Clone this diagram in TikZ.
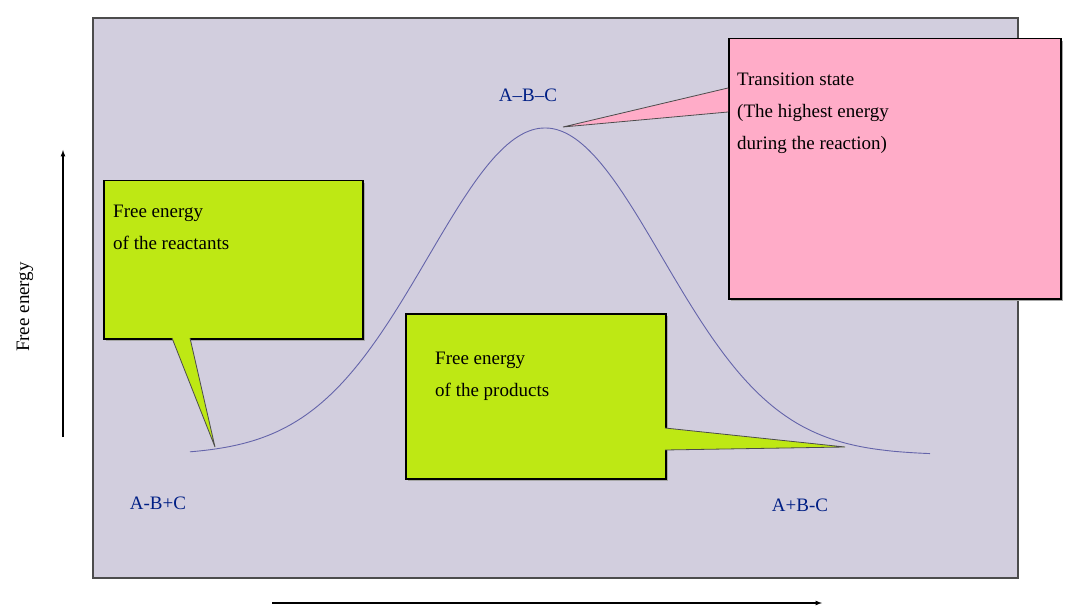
\documentclass[tikz,border=0pt]{standalone}
\usepackage{fontspec}
\setmainfont{Liberation Serif}
\begin{document}
\begin{tikzpicture}[x=1pt,y=-1pt,
 box/.style={draw=black,line width=1.5pt,inner sep=0pt},
 txt/.style={anchor=north west,align=left,font=\fontsize{19}{32}\selectfont,inner sep=0pt},
 lab/.style={font=\fontsize{19}{22}\selectfont,text=black!60!teal!60!blue},
 ptr/.style={draw=black!70,line width=0.8pt}]
\useasboundingbox (0,0) rectangle (1080,607);
\fill[white] (0,0) rectangle (1080,607);
\draw[fill={rgb,255:red,210;green,206;blue,222},draw=black!70,line width=1.2pt] (93,18) rectangle (1018,578) node[pos=0,coordinate](plot){};
% curve
\draw[draw={rgb,255:red,100;green,100;blue,170},line width=0.9pt,domain=190:930,samples=120,smooth]
 plot (\x,{455-327*exp(-((\x-545)/165)^2)});
% callouts
\fill[black!35] (106,183) rectangle (365,341);
\node[box,fill={rgb,255:red,190;green,232;blue,20},minimum width=259pt,minimum height=158pt,anchor=north west] (b1) at (103,180) {};
\node[txt] (t1) at (113,205) {Free energy\\of the reactants};
\coordinate (p1) at (215,447);
\filldraw[ptr,fill={rgb,255:red,190;green,232;blue,20}] (172,338) -- (p1) -- (190,338);
\fill[black!35] (408,316) rectangle (668,481);
\node[box,fill={rgb,255:red,190;green,232;blue,20},minimum width=260pt,minimum height=165pt,anchor=north west] (b2) at (405,313) {};
\node[txt] (t2) at (435,352) {Free energy\\of the products};
\coordinate (p2) at (845,447);
\filldraw[ptr,fill={rgb,255:red,190;green,232;blue,20}] (665,428) -- (p2) -- (665,450);
\fill[black!35] (731,41) rectangle (1063,301);
\node[box,fill={rgb,255:red,255;green,172;blue,200},minimum width=332pt,minimum height=260pt,anchor=north west] (b3) at (728,38) {};
\node[txt] (t3) at (737,73) {Transition state\\(The highest energy\\during the reaction)};
\coordinate (p3) at (563,127);
\filldraw[ptr,fill={rgb,255:red,255;green,172;blue,200}] (728,88) -- (p3) -- (728,112);
% labels
\node[lab] (ts) at (528,95) {A--B--C};
\node[lab] (r) at (158,503) {A-B+C};
\node[lab] (pr) at (800,505) {A+B-C};
\node[rotate=90,font=\fontsize{19}{22}\selectfont] (fe) at (25,307) {Free energy};
\coordinate (ya) at (63,437); \coordinate (yb) at (63,150);
\draw[-latex,line width=1.2pt] (ya) -- (yb);
\coordinate (xa) at (272,603); \coordinate (xb) at (822,603);
\draw[-latex,line width=1.2pt] (xa) -- (xb);
\end{tikzpicture}
\end{document}
